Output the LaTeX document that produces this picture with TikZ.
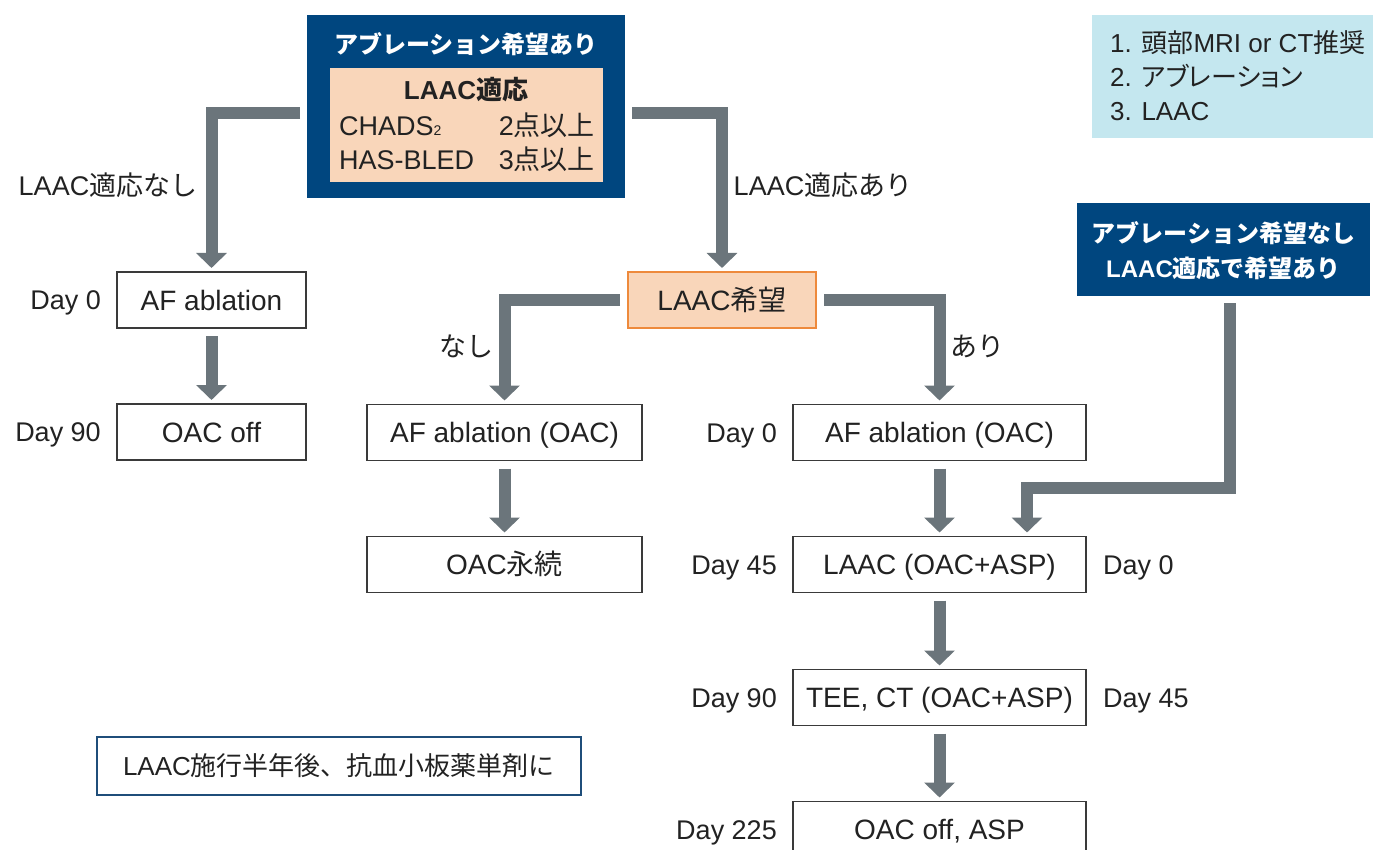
\documentclass[tikz,border=0pt]{standalone}
\usepackage{fontspec}
\setmainfont{Liberation Sans}
\newfontfamily\jp{Noto Sans CJK JP}
\newfontfamily\jpp[RawFeature=+palt]{Noto Sans CJK JP}
\usetikzlibrary{arrows.meta,calc}
\definecolor{navy}{HTML}{00467F}
\definecolor{peach}{HTML}{F9D6BA}
\definecolor{orangeb}{HTML}{EE8A3C}
\definecolor{lightblue}{HTML}{C4E7EF}
\definecolor{arrowgray}{HTML}{6B757B}
\definecolor{boxline}{HTML}{3A3A3A}
\definecolor{txt}{HTML}{222222}
\definecolor{notenavy}{HTML}{1F4E7A}
\begin{document}
\begin{tikzpicture}[x=1pt,y=-1pt,
  stepbox/.style={draw=boxline, line width=1.3pt, fill=white, minimum height=56pt,
    font=\fontsize{28}{32}\selectfont, text=txt, inner sep=0pt, outer sep=0pt,
    text height=20pt, text depth=0pt},
  lab/.style={font=\fontsize{27}{31}\selectfont, text=txt, inner sep=0pt,
    text height=19.5pt, text depth=0pt},
  infolab/.style={font=\fontsize{26}{30}\selectfont, text=txt, inner sep=0pt,
    text height=19pt, text depth=0pt},
  wtitle/.style={font=\fontsize{24}{28}\selectfont\bfseries, text=white, inner sep=0pt},
  flow/.style={draw=arrowgray, line width=12pt, -{Triangle[width=30pt,length=15pt]}}]
\useasboundingbox (0,0) rectangle (1373,850);
\clip (0,0) rectangle (1373,850);

% top navy box
\node[fill=navy, minimum width=318pt, minimum height=183pt, inner sep=0pt, outer sep=0pt] (top) at (466,106.5) {};
\node[wtitle] (toptitle) at (466,44) {\jp アブレーション希望あり};
\node[fill=peach, minimum width=273pt, minimum height=114pt, inner sep=0pt, outer sep=0pt] (peachbox) at (466.5,125) {};
\node[font=\fontsize{26}{30}\selectfont\bfseries, text=txt, inner sep=0pt] (laacadapt) at (466,90) {LAAC{\jp 適応}};
\node[lab, anchor=west] (chads) at (339,126) {CHADS{\fontsize{14}{14}\selectfont 2}};
\node[lab, anchor=east] (chadsv) at (595,126) {2{\jp 点以上}};
\node[lab, anchor=west] (hasb) at (339,160) {HAS-BLED};
\node[lab, anchor=east] (hasbv) at (595,160) {3{\jp 点以上}};

% info box
\node[fill=lightblue, minimum width=290pt, minimum height=123pt, inner sep=0pt, outer sep=0pt] (info) at (1237,76.5) {};
\node[infolab, anchor=west] (i1) at (1110,43) {1. {\jp 頭部}MRI or CT{\jp 推奨}};
\node[infolab, anchor=west] (i2) at (1110,77) {2. {\jpp アブレーション}};
\node[infolab, anchor=west] (i3) at (1110,111) {3. LAAC};

% navy right box
\node[fill=navy, minimum width=293pt, minimum height=93pt, inner sep=0pt, outer sep=0pt] (navyR) at (1223.5,249.5) {};
\node[wtitle] (nr1) at (1223.5,233) {\jp アブレーション希望なし};
\node[wtitle] (nr2) at (1223.5,268) {LAAC{\jp 適応で希望あり}};

% boxes
\node[stepbox, minimum width=189pt] (afl) at (211.5,300) {AF ablation};
\node[stepbox, minimum width=189pt] (oacoff) at (211.5,432) {OAC off};
\node[stepbox, minimum width=188pt, fill=peach, draw=orangeb] (lw) at (722,300) {LAAC{\jp 希望}};
\node[stepbox, minimum width=275pt] (afm) at (504.5,432.5) {AF ablation (OAC)};
\node[stepbox, minimum width=275pt] (oace) at (504.5,564.5) {OAC{\jp 永続}};
\node[stepbox, minimum width=293pt] (afr) at (939.5,432.5) {AF ablation (OAC)};
\node[stepbox, minimum width=293pt] (laac) at (939.5,564.5) {LAAC (OAC+ASP)};
\node[stepbox, minimum width=293pt] (tee) at (939.5,697.5) {TEE, CT (OAC+ASP)};
\node[stepbox, minimum width=293pt] (fin) at (939.5,829.5) {OAC off, ASP};

% note box
\node[draw=notenavy, line width=2.6pt, fill=white, minimum width=484pt, minimum height=58pt,
  inner sep=0pt, outer sep=0pt, font=\fontsize{26}{30}\selectfont, text=txt] (note) at (339,766) {LAAC{\jp 施行半年後、抗血小板薬単剤に}};

% day labels
\node[lab, anchor=east] (d1) at ([xshift=-16pt]afl.west) {Day 0};
\node[lab, anchor=east] (d2) at ([xshift=-16pt]oacoff.west) {Day 90};
\node[lab, anchor=east] (d3) at ([xshift=-16pt]afr.west) {Day 0};
\node[lab, anchor=east] (d4) at ([xshift=-16pt]laac.west) {Day 45};
\node[lab, anchor=east] (d5) at ([xshift=-16pt]tee.west) {Day 90};
\node[lab, anchor=east] (d6) at ([xshift=-16pt]fin.west) {Day 225};
\node[lab, anchor=west] (d7) at ([xshift=17pt]laac.east) {Day 0};
\node[lab, anchor=west] (d8) at ([xshift=17pt]tee.east) {Day 45};

% branch labels
\node[lab] (l1) at (108,186) {LAAC{\jp 適応なし}};
\node[lab] (l2) at (823,186) {LAAC{\jp 適応あり}};
\node[lab] (l3) at (466,347) {\jp なし};
\node[lab] (l4) at (977,347) {\jp あり};

% arrows
\draw[flow] ($(top.west)+(-7,6.5)$) -| ([yshift=4pt]afl.north);
\draw[flow] ($(top.east)+(7,6.5)$) -| ([yshift=4pt]lw.north);
\draw[flow] ([xshift=-8pt]lw.west) -| ([yshift=4pt]afm.north);
\draw[flow] ([xshift=8pt]lw.east) -| ([yshift=4pt]afr.north);
\draw[flow] ([yshift=-8pt]afl.south) -- ([yshift=4pt]oacoff.north);
\draw[flow] ([yshift=-8pt]afm.south) -- ([yshift=4pt]oace.north);
\draw[flow] ([yshift=-8pt]afr.south) -- ([yshift=4pt]laac.north);
\draw[flow] ([yshift=-8pt]laac.south) -- ([yshift=4pt]tee.north);
\draw[flow] ([yshift=-8pt]tee.south) -- ([yshift=4pt]fin.north);
\draw[flow] ($(navyR.south)+(6,7)$) -- ++(0,185) -| ($(laac.north)+(87.5,-4)$);
\end{tikzpicture}
\end{document}
